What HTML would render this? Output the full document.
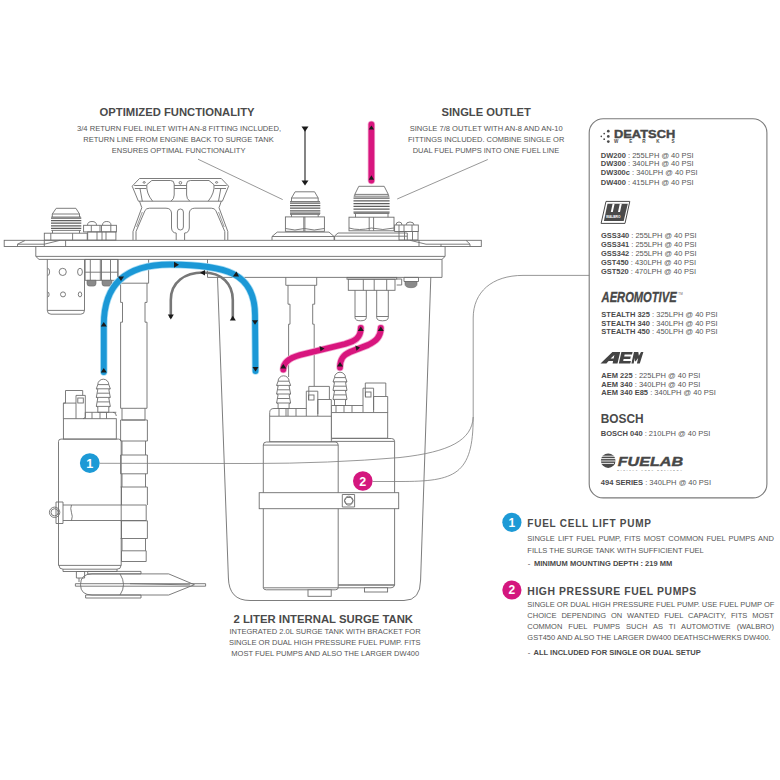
<!DOCTYPE html>
<html><head><meta charset="utf-8">
<style>
html,body{margin:0;padding:0;background:#fff;width:780px;height:780px;overflow:hidden}
svg{display:block}
text{font-family:"Liberation Sans",sans-serif}
.t{font-weight:bold;fill:#4a4a4a}
.b{fill:#555}
.k{fill:#4a4a4a}
.d{fill:none;stroke:#6e6e6e;stroke-width:0.9}
.dw{fill:#fff}
.dw [fill=none]{fill:none}
</style></head><body>
<svg width="780" height="780" viewBox="0 0 780 780">
<rect width="780" height="780" fill="#fff"/>

<!-- ===== TOP LEFT TEXT ===== -->
<text class="t" x="99.6" y="116.4" font-size="11" textLength="155" lengthAdjust="spacingAndGlyphs">OPTIMIZED FUNCTIONALITY</text>
<text class="b" x="77" y="131.3" font-size="8" textLength="204" lengthAdjust="spacingAndGlyphs">3/4 RETURN FUEL INLET WITH AN-8 FITTING INCLUDED,</text>
<text class="b" x="83.3" y="142" font-size="8" textLength="190.4" lengthAdjust="spacingAndGlyphs">RETURN LINE FROM ENGINE BACK TO SURGE TANK</text>
<text class="b" x="111.7" y="153.2" font-size="8" textLength="133.8" lengthAdjust="spacingAndGlyphs">ENSURES OPTIMAL FUNCTIONALITY</text>

<!-- ===== TOP MIDDLE TEXT ===== -->
<text class="t" x="441.5" y="116.3" font-size="11" textLength="89.4" lengthAdjust="spacingAndGlyphs">SINGLE OUTLET</text>
<text class="b" x="409.7" y="131.2" font-size="8" textLength="153" lengthAdjust="spacingAndGlyphs">SINGLE 7/8 OUTLET WITH AN-8 AND AN-10</text>
<text class="b" x="408" y="141.8" font-size="8" textLength="156.3" lengthAdjust="spacingAndGlyphs">FITTINGS INCLUDED. COMBINE SINGLE OR</text>
<text class="b" x="412.7" y="152.7" font-size="8" textLength="146.5" lengthAdjust="spacingAndGlyphs">DUAL FUEL PUMPS INTO ONE FUEL LINE</text>

<!-- ===== BOTTOM MIDDLE TEXT ===== -->
<text class="t" x="233.5" y="622.5" font-size="11.2" textLength="179.5" lengthAdjust="spacingAndGlyphs">2 LITER INTERNAL SURGE TANK</text>
<text class="b" x="229.4" y="633.8" font-size="8" textLength="191.2" lengthAdjust="spacingAndGlyphs">INTEGRATED 2.0L SURGE TANK WITH BRACKET FOR</text>
<text class="b" x="228.9" y="644.8" font-size="8" textLength="191.7" lengthAdjust="spacingAndGlyphs">SINGLE OR DUAL HIGH PRESSURE FUEL PUMP. FITS</text>
<text class="b" x="231.3" y="656.2" font-size="8" textLength="187.9" lengthAdjust="spacingAndGlyphs">MOST FUEL PUMPS AND ALSO THE LARGER DW400</text>

<!-- ===== BOTTOM RIGHT TEXT ===== -->
<circle cx="511.9" cy="522.3" r="9.6" fill="#1d9ad6"/>
<text x="511.9" y="526.6" font-size="12" font-weight="bold" fill="#fff" text-anchor="middle">1</text>
<text class="t" x="527.3" y="526.8" font-size="10" textLength="123.7" lengthAdjust="spacing">FUEL CELL LIFT PUMP</text>
<text class="b" transform="translate(527.3,541) scale(0.94,1)" font-size="8" style="word-spacing:1.1px">SINGLE LIFT FUEL PUMP, FITS MOST COMMON FUEL PUMPS AND</text>
<text class="b" x="527.3" y="552.5" font-size="8" textLength="176.5" lengthAdjust="spacingAndGlyphs">FILLS THE SURGE TANK WITH SUFFICIENT FUEL</text>
<text class="k" x="527.7" y="566.2" font-size="7.6">-</text>
<text class="k" x="534" y="566.2" font-size="7.6" font-weight="bold" textLength="138.2" lengthAdjust="spacingAndGlyphs">MINIMUM MOUNTING DEPTH : 219 MM</text>

<circle cx="511.9" cy="590" r="9.6" fill="#d4177e"/>
<text x="511.9" y="594.3" font-size="12" font-weight="bold" fill="#fff" text-anchor="middle">2</text>
<text class="t" x="527.3" y="595.2" font-size="10.4" textLength="169" lengthAdjust="spacing">HIGH PRESSURE FUEL PUMPS</text>
<text class="b" x="527.3" y="606.7" font-size="8" textLength="247" lengthAdjust="spacingAndGlyphs">SINGLE OR DUAL HIGH PRESSURE FUEL PUMP. USE FUEL PUMP OF</text>
<text class="b" transform="translate(527.3,618.2) scale(0.94,1)" font-size="8" style="word-spacing:2.99px">CHOICE DEPENDING ON WANTED FUEL CAPACITY, FITS MOST</text>
<text class="b" transform="translate(527.3,629.2) scale(0.94,1)" font-size="8" style="word-spacing:4.2px">COMMON FUEL PUMPS SUCH AS TI AUTOMOTIVE (WALBRO)</text>
<text class="b" x="527.3" y="640.4" font-size="8" textLength="243.4" lengthAdjust="spacingAndGlyphs">GST450 AND ALSO THE LARGER DW400 DEATHSCHWERKS DW400.</text>
<text class="k" x="527.7" y="654.8" font-size="7.6">-</text>
<text class="k" x="533.5" y="654.8" font-size="7.6" font-weight="bold" textLength="167.3" lengthAdjust="spacingAndGlyphs">ALL INCLUDED FOR SINGLE OR DUAL SETUP</text>

<!-- ===== RIGHT BOX ===== -->
<rect x="589.2" y="118.7" width="177.7" height="379.2" rx="14" fill="none" stroke="#7a7a7a" stroke-width="1.1"/>

<!-- ===== BOX CONTENT ===== -->
<g fill="#4a4a4a">
<!-- Deatsch dots -->
<circle cx="608.3" cy="131.2" r="1.35"/><circle cx="608.3" cy="136.4" r="1.35"/><circle cx="608.3" cy="141.6" r="1.35"/>
<circle cx="604.2" cy="133.6" r="0.9"/><circle cx="604.2" cy="139.2" r="0.9"/><circle cx="601.3" cy="136.4" r="0.8"/>
</g>
<text x="614" y="137.6" font-size="10" font-weight="bold" fill="#474747" textLength="61.2" lengthAdjust="spacingAndGlyphs" stroke="#474747" stroke-width="0.35">DEATSCH</text>
<g font-size="4.6" font-weight="bold" fill="#4a4a4a">
<text x="614" y="143.3">W</text><text x="629.2" y="143.3">E</text><text x="642.3" y="143.3">R</text><text x="656.2" y="143.3">K</text><text x="671.5" y="143.3">S</text>
</g>
<g font-size="8" fill="#555">
<text x="600.8" y="157.7" textLength="92.9" lengthAdjust="spacingAndGlyphs"><tspan font-weight="bold" fill="#4a4a4a">DW200</tspan> : 255LPH @ 40 PSI</text>
<text x="600.8" y="166.1" textLength="92.9" lengthAdjust="spacingAndGlyphs"><tspan font-weight="bold" fill="#4a4a4a">DW300</tspan> : 340LPH @ 40 PSI</text>
<text x="600.8" y="175.4" textLength="96.7" lengthAdjust="spacingAndGlyphs"><tspan font-weight="bold" fill="#4a4a4a">DW300c</tspan> : 340LPH @ 40 PSI</text>
<text x="600.8" y="184.5" textLength="92.9" lengthAdjust="spacingAndGlyphs"><tspan font-weight="bold" fill="#4a4a4a">DW400</tspan> : 415LPH @ 40 PSI</text>

<text x="601" y="238.1" textLength="95.5" lengthAdjust="spacingAndGlyphs"><tspan font-weight="bold" fill="#4a4a4a">GSS340</tspan> : 255LPH @ 40 PSI</text>
<text x="601" y="247.1" textLength="95.5" lengthAdjust="spacingAndGlyphs"><tspan font-weight="bold" fill="#4a4a4a">GSS341</tspan> : 255LPH @ 40 PSI</text>
<text x="601" y="256.0" textLength="95.5" lengthAdjust="spacingAndGlyphs"><tspan font-weight="bold" fill="#4a4a4a">GSS342</tspan> : 255LPH @ 40 PSI</text>
<text x="601" y="265.0" textLength="95" lengthAdjust="spacingAndGlyphs"><tspan font-weight="bold" fill="#4a4a4a">GST450</tspan> : 430LPH @ 40 PSI</text>
<text x="601" y="274.2" textLength="95" lengthAdjust="spacingAndGlyphs"><tspan font-weight="bold" fill="#4a4a4a">GST520</tspan> : 470LPH @ 40 PSI</text>

<text x="601.3" y="316.5" textLength="116.4" lengthAdjust="spacingAndGlyphs"><tspan font-weight="bold" fill="#4a4a4a">STEALTH 325</tspan> : 325LPH @ 40 PSI</text>
<text x="601.3" y="325.8" textLength="116.4" lengthAdjust="spacingAndGlyphs"><tspan font-weight="bold" fill="#4a4a4a">STEALTH 340</tspan> : 340LPH @ 40 PSI</text>
<text x="601.3" y="334.2" textLength="116.4" lengthAdjust="spacingAndGlyphs"><tspan font-weight="bold" fill="#4a4a4a">STEALTH 450</tspan> : 450LPH @ 40 PSI</text>

<text x="601.3" y="377.7" textLength="99.1" lengthAdjust="spacingAndGlyphs"><tspan font-weight="bold" fill="#4a4a4a">AEM 225</tspan> : 225LPH @ 40 PSI</text>
<text x="601.3" y="386.7" textLength="99.1" lengthAdjust="spacingAndGlyphs"><tspan font-weight="bold" fill="#4a4a4a">AEM 340</tspan> : 340LPH @ 40 PSI</text>
<text x="601.3" y="395.4" textLength="114.5" lengthAdjust="spacingAndGlyphs"><tspan font-weight="bold" fill="#4a4a4a">AEM 340 E85</tspan> : 340LPH @ 40 PSI</text>

<text x="600.8" y="436" textLength="109.6" lengthAdjust="spacingAndGlyphs"><tspan font-weight="bold" fill="#4a4a4a">BOSCH 040</tspan> : 210LPH @ 40 PSI</text>
<text x="600.8" y="484.8" textLength="110.2" lengthAdjust="spacingAndGlyphs"><tspan font-weight="bold" fill="#4a4a4a">494 SERIES</tspan> : 340LPH @ 40 PSI</text>
</g>

<!-- Walbro logo -->
<path d="M606,201.4 H629.8 L625,223.4 H601.1 Z" fill="#fff" stroke="#4a4a4a" stroke-width="1"/>
<path d="M607.5,203.7 H627.8 L623.7,221.1 H603.9 Z" fill="#4a4a4a"/>
<path d="M612.6,203.7 H614.6 L612.8,211.9 H610.8 Z M619.8,203.7 H621.8 L620,211.9 H618 Z" fill="#fff"/>
<text x="606" y="217.8" font-size="3.6" font-weight="bold" fill="#fff" textLength="14.5" lengthAdjust="spacingAndGlyphs">WALBRO</text>

<!-- Aeromotive -->
<text x="601.6" y="302.1" font-size="14" font-weight="bold" font-style="italic" fill="#474747" textLength="75" lengthAdjust="spacingAndGlyphs" stroke="#474747" stroke-width="0.3">AEROMOTIVE</text>
<text x="678.3" y="294.5" font-size="3" fill="#666">TM</text>

<!-- AEM -->
<g fill="#444">
<path d="M600.5,363.5 L612.4,351.9 H620.2 L617.5,363.5 H612.6 L613.1,361 H608.6 L606.4,363.5 Z M610.6,358.6 H613.6 L614.4,355 Z"/>
<path d="M618.8,363.5 L621.4,351.9 H632.6 L632,354.6 H624.6 L624.2,356.4 H630.8 L630.2,359 H623.6 L623.2,360.9 H630.9 L630.3,363.5 Z"/>
<path d="M631.4,363.5 L634,351.9 H638.3 L638.9,355.8 L641,351.9 H643.4 L639.8,363.5 H636.9 L638.2,358 L635.8,361.3 H634.9 L634.6,358 L633.7,363.5 Z"/>
</g>
<!-- BOSCH -->
<text x="600.8" y="422.5" font-size="12" font-weight="bold" fill="#4a4a4a" textLength="42.9" lengthAdjust="spacingAndGlyphs">BOSCH</text>

<!-- Fuelab -->
<circle cx="608.2" cy="460.7" r="7.3" fill="#4a4a4a"/>
<path d="M600,456.2 H614 M600,458.6 H616 M600,461 H616 M600,463.4 H614" stroke="#fff" stroke-width="0.9"/>
<text x="617.8" y="465.9" font-size="13" font-weight="bold" font-style="italic" fill="#474747" textLength="65.2" lengthAdjust="spacingAndGlyphs" stroke="#474747" stroke-width="0.4">FUELAB</text>
<text x="617.2" y="470.6" font-size="2.4" font-weight="bold" fill="#777" textLength="64.6" lengthAdjust="spacing">DIGITAL FUEL DELIVERY</text>

<!-- DIAGRAM -->
<!-- ===== PLATE & FLANGE ===== -->
<g class="d">
<rect x="4.2" y="240.3" width="477.1" height="6.2"/>
<path d="M17.5,246.5 V244.2 L25,240.5 M17.5,244.2 H44.3 L60,240.3 M44.3,240.3 V246.5 M65.6,240.3 V246.5"/>
<path d="M410,240.3 L426,244.2 H470 L466,240.3 M470,244.2 V246.5 M441,244.2 V246.5 M419,240.3 V246.5"/>
<path d="M35.8,246.5 V256.4 L39,259.4 H442 L445.1,256.4 V246.5 M35.8,256.4 H445.1"/>
<!-- lower body -->
<path d="M207.5,259.4 V277.4 H442 V259.4"/>
<!-- surge tank -->
<path d="M217.5,277.4 L228.4,578 Q229,600.5 250,600.5 H404 Q420.5,600.5 420.6,580 L430.8,277.4"/>
</g>

<!-- ===== STRAINER (under flange left) ===== -->
<g class="d">
<path d="M47.3,259.4 V310.4 Q47.3,314.2 51,314.2 H80.8 Q84.5,314.2 84.5,310.4 V259.4 M47.3,310.4 H84.5"/>
<path d="M47.6,268.3 A2,3.6 0 0 1 47.6,275.5"/>
<circle cx="62.7" cy="271.9" r="3.6"/>
<ellipse cx="80" cy="271.9" rx="2.4" ry="3.6"/>
<path d="M47.6,292 A1.5,2.5 0 0 1 47.6,297"/>
<circle cx="63" cy="294.4" r="2.5"/>
<ellipse cx="80" cy="294.4" rx="1.7" ry="2.5"/>
</g>
<!-- nuts under flange -->
<g class="d">
<rect x="85.1" y="259.4" width="32.7" height="20.9"/>
<path d="M85.1,272.2 H117.8 M90.3,259.4 V280.3 M100.3,259.4 V280.3 M101.5,259.4 V280.3 M110.5,259.4 V280.3"/>
</g>
<path d="M87,280.3 h9 v3 q0,2.8 -2.5,2.8 h-4 q-2.5,0 -2.5,-2.8z M102,280.3 h10 v3 q0,2.8 -2.5,2.8 h-5 q-2.5,0 -2.5,-2.8z" fill="#8a8a8a" stroke="#666" stroke-width="0.6"/>

<!-- ===== LIFT PUMP SUPPORT TUBE ===== -->
<g class="d">
<path d="M118,259.4 V283.2 H148.6 V259.4"/>
<path d="M120.6,283.2 V302.4 H122.5 V322.2 H120.6 V408.3 M147,283.2 V302.4 H145 V322.2 H147 V408.3 M120.6,408.3 H147"/>
<path d="M122,408.3 V420 H145 V408.3"/>
<path d="M120.6,420 H147.4 V441 H120.6Z"/>
<path d="M122,441 V455 M145.5,441 V455"/>
<path d="M120.6,455 H147.4 V473.8 H120.6Z"/>
<path d="M122,473.8 V487 M145.5,473.8 V487"/>
<path d="M120.6,487 H147.4 V505 M121.5,487 V505"/>
<path d="M120.6,520.8 H147.4 V538.5 M121.5,520.8 V538.5 M120.6,538.5 H147.4"/>
<path d="M122,538.5 V550.8 M145.5,538.5 V550.8"/>
<path d="M121.5,550.8 H146.2 V561.5 H121.5Z"/>
</g>
<!-- ===== TOP FITTINGS ===== -->
<g class="d">
<!-- left AN fitting -->
<path d="M52.3,217 V214 L56.2,208.3 H75.9 L79.5,214 V217 M52.3,214 H79.5 M52.5,230.4 V233.2 M79.5,230.4 V233.2"/>
<rect x="44.3" y="233.2" width="42.9" height="6.9"/>
<path d="M50.8,233.2 V240.1 M72.6,233.2 V240.1"/>
</g>
<g fill="none" stroke="#5e5e5e" stroke-width="1.25">
<path d="M51,218 H81.3 M51,220.6 H81.3 M51,223.2 H81.3 M51,225.8 H81.3 M51,228.4 H81.3"/>
</g>
<path d="M51.3,217 H81 M51.3,230.4 H81" class="d"/>
<!-- small nuts left -->
<g class="d">
<path d="M87.5,225.3 Q87.5,221.5 92,221.5 Q96.5,221.5 96.5,225.3 M102.5,225.3 Q102.5,221.5 106.8,221.5 Q111,221.5 111,225.3"/>
<rect x="83.6" y="225.3" width="32.8" height="6.6"/>
<path d="M91.3,225.3 V231.9 M100,225.3 V231.9 M101.5,225.3 V231.9 M110.8,225.3 V231.9"/>
<rect x="87.7" y="231.9" width="28.2" height="8.2"/>
<path d="M97,231.9 V240.1 M102,231.9 V240.1 M106,231.9 V240.1"/>
</g>

<!-- bracket -->
<g class="d">
<path d="M139.5,178.5 H221.3 L228.6,186.2 L222.4,201.2 H138.4 L132.2,186.2 Z"/>
<path d="M151.8,180.5 H170.5 Q174.2,180.5 174.2,184 V195 Q174.2,199 171,201.2 M151.8,180.5 L146.8,184.7 Q146,193 152.6,201.2"/>
<path d="M209,180.5 H190.3 Q186.6,180.5 186.6,184 V195 Q186.6,199 189.8,201.2 M209,180.5 L214,184.7 Q214.8,193 208.2,201.2"/>
<path d="M174.2,185.5 H186.6 M174.2,188.5 H186.6 M134.2,185.5 H146.6 M134.8,188.5 H146.3 M140,188.5 L142.3,201.2 M226.6,185.5 H214.2 M226,188.5 H214.5 M220.8,188.5 L218.5,201.2"/>
<circle cx="180.4" cy="182.8" r="1.3"/>
<ellipse cx="144.2" cy="182.4" rx="1.1" ry="0.8"/>
<ellipse cx="216.6" cy="182.4" rx="1.1" ry="0.8"/>
<path d="M136,240 V231.5 L145,210.5 Q146.3,208.2 149.5,208.2 H166 Q171,208.2 171.5,213 V228 Q172,233 176.2,233 V240"/>
<path d="M224.8,240 V231.5 L215.8,210.5 Q214.5,208.2 211.3,208.2 H194.8 Q189.8,208.2 189.3,213 V228 Q188.8,233 184.6,233 V240"/>
<path d="M139.5,201.2 L141.8,207.7 L133,231.5 V240 M221.3,201.2 L219,207.7 L227.8,231.5 V240"/>
<path d="M142.3,212 L136.6,227 M218.5,212 L224.2,227" stroke-width="0.7"/>
<rect x="177.4" y="209" width="6" height="21" rx="3"/>
</g>

<!-- AN-8 fitting (return) -->
<g class="d">
<path d="M291.5,201.5 V198 L295.1,191.8 H314.6 L318.2,198 V201.5 M291.5,198 H318.2 M291.5,214.4 V216.9 M318.2,214.4 V216.9"/>
<rect x="285.4" y="216.9" width="39" height="14.4"/>
<path d="M304.9,216.9 V231.3 M303.8,216.9 V231.3 M285.4,228.5 Q295,231.5 304.4,228.5 Q314,231.5 324.4,228.5"/>
<path d="M272,240 V236.5 L277.2,232.1 H329 L334.1,236.5 V240 M272,236.5 H334.1"/>
</g>
<g fill="none" stroke="#5e5e5e" stroke-width="1.25">
<path d="M290,203 H320.3 M290,205.6 H320.3 M290,208.2 H320.3 M290,210.8 H320.3 M290,213.2 H320.3"/>
</g>
<path d="M290,201.5 H320 M290,214.4 H320" class="d"/>

<!-- AN-10 fitting (outlet) -->
<g class="d">
<path d="M354.8,196.2 V194.4 L358.8,186.3 H384.2 L388.3,194.4 V196.2 M354.8,194.4 H388.3 M355.5,213.5 V217.2 M388,213.5 V217.2"/>
<rect x="349" y="217.2" width="45" height="13.6"/>
<path d="M369.2,217.2 V230.8 M373.6,217.2 V230.8 M349,228 Q359,231 371.4,228 Q383,231 394,228"/>
<path d="M334.6,240 V236 L338,233 H407.3 V240 M334.6,236.2 H407.3"/>
<!-- bolt to the right -->
<path d="M396,225 Q396,222 399,222 Q402,222 402,225 M406,225 Q406,222 410,222 Q414,222 414,225"/>
<rect x="394.6" y="225" width="23.7" height="6.5"/>
<path d="M399,225 V231.5 M404,225 V231.5 M412,225 V231.5"/>
<rect x="399" y="231.5" width="19" height="8.5"/>
<path d="M404.5,231.5 V240 M412.5,231.5 V240"/>
</g>
<g fill="none" stroke="#5e5e5e" stroke-width="1.25">
<path d="M353.5,198 H389.6 M353.5,200.8 H389.6 M353.5,203.6 H389.6 M353.5,206.4 H389.6 M353.5,209.2 H389.6 M353.5,212 H389.6"/>
</g>
<path d="M353.7,196.2 H389.4 M353.7,213.5 H389.4" class="d"/>
<!-- ===== OUTLET BLOCK UNDER PLATE ===== -->
<g class="d">
<rect x="347" y="277.4" width="49.7" height="1.8"/>
<rect x="348.3" y="279.2" width="46.7" height="11.1"/>
<path d="M363.3,279.2 V290.3 M374.2,279.2 V290.3 M386.7,279.2 V290.3"/>
<path d="M355,290.3 V317.5 Q355,320.8 360.6,320.8 Q366.3,320.8 366.3,317.5 V290.3 M355,316.5 H366.3"/>
<path d="M376.7,290.3 V317.5 Q376.7,320.8 382.5,320.8 Q388.3,320.8 388.3,317.5 V290.3 M376.7,316.5 H388.3"/>
<path d="M396.7,279 h5 v6 h-5 M404,277.4 h14.5 v4.1 h-14.5z"/>
</g>
<path d="M405,281.5 h12 v2.5 q0,3.7 -6,3.7 q-6,0 -6,-3.7z" fill="#8a8a8a" stroke="#666" stroke-width="0.6"/>

<!-- ===== CENTRAL TUBE ===== -->
<g class="d">
<path d="M285.8,277.4 V285.3 H316.7 V277.4"/>
<path d="M288,285.3 V304.2 H290 V324.2 H288.6 V377 M314.7,285.3 V304.2 H312.7 V324.2 H314.2 V386.4"/>
</g>

<!-- ===== LEFT LIFT PUMP ===== -->
<g class="d">
<!-- barb -->
<path d="M97.8,384.6 A5.5,5.4 0 0 1 108.8,384.6 L110.3,388.8 L108.8,389.4 L110.3,397.4 L108.8,398.0 L110.3,406.4 L108.8,407.0 V412.3 H97.8 L97.8,407.0 L96.3,406.4 L97.8,398.0 L96.3,397.4 L97.8,389.4 L96.3,388.8 Z" style="fill:#fff"/><path d="M96.3,388.8 H110.3 M96.3,397.4 H110.3 M96.3,406.4 H110.3 M97.8,384.6 H108.8 M97.2,393.2 H109.4 M97.2,401.9 H109.4" fill="none"/>
<!-- connector -->
<path d="M63.4,418.7 V403.1 H65.5 V390.5 H82.7 V395.4"/>
<path d="M76,418.7 V395.4 H85.3 V416.5 Q85.3,418.7 83,418.7 M76,403.1 H63.4"/>
<rect x="77.8" y="398" width="5.5" height="5"/>
<path d="M85.3,412.3 H116.3 M85.3,418.7 V412.3 M92,412.3 V418.7 M100,412.3 V418.7 M106.5,412.3 V418.7 M113,412.3 Q116.3,412.3 116.3,416"/>
<!-- head -->
<rect x="63.4" y="418.7" width="52.9" height="20.4"/>
<!-- body -->
<path d="M58.5,565.4 V441.5 Q58.5,439.1 61,439.1 H118.7 Q121.2,439.1 121.2,441.5 V565.4 Z"/>
<path d="M59,565.4 Q59,569.2 63,569.2 H117 Q121,569.2 121,565.4 M63,569.2 V571.5 H117 V569.2"/>
<!-- clamp -->
<path d="M63,505 H146.2 V520.5 H63 M71.5,505 Q70,508 71.5,512.8 Q73,516 71.5,520.5"/>
<path d="M56,502 H63 V523.5 H56Z"/>
<circle cx="54.6" cy="512.3" r="5.2"/>
<circle cx="54.6" cy="512.3" r="3.6"/>
<!-- filter sock -->
<path d="M87.7,571.4 H141 V573.9 H87.7Z M85.6,595 H141 V598 H85.6Z M76.4,571.5 H84.6 V578 H76.4Z M79,578 V582"/>
<path d="M80.5,584.7 Q80.5,573.9 92,573.9 H168.7 L194.4,584.7 L168.7,595 H92 Q80.5,595 80.5,584.7"/>
<path d="M75.4,583.7 H205.6 V586.2 H75.4Z"/>
<path d="M120,573.9 Q127,584.7 120,595 M130,583.7 L190,584.9"/>
</g>
<!-- ===== HP PUMP B (behind) ===== -->
<g class="d dw">
<path d="M334.5,377.6 A5.5,5.4 0 0 1 345.5,377.6 L347.0,381.8 L345.5,382.4 L347.0,390.4 L345.5,391.0 L347.0,399.4 L345.5,400.0 V405.5 H334.5 L334.5,400.0 L333.0,399.4 L334.5,391.0 L333.0,390.4 L334.5,382.4 L333.0,381.8 Z" style="fill:#fff"/><path d="M333.0,381.8 H347.0 M333.0,390.4 H347.0 M333.0,399.4 H347.0 M334.5,377.6 H345.5 M333.9,386.2 H346.1 M333.9,394.9 H346.1" fill="none"/>
<path d="M365.3,396.5 V383 H385.8 V396.5"/>
<path d="M373.6,412.6 V396.5 H387.7 V412.6"/>
<path d="M363,412.6 V388.2 H373.6 V410 M363,405.5 H331.3 V412.6" fill="none"/>
<rect x="365.5" y="392" width="5.5" height="5" fill="none"/>
<path d="M336,405.5 V412.6 M344,405.5 V412.6 M352,405.5 V412.6" fill="none"/>
<rect x="331.3" y="412.6" width="56.4" height="25.6"/>
<path d="M330,585 V441 Q330,438.5 333,438.5 H391.6 Q394.6,438.5 394.6,441.5 V585 Z"/>
<path d="M330,441.4 H394.6 M338,585 H394.6 Q394.1,587.8 391,587.8 H338" fill="none"/>
<rect x="364.5" y="587.8" width="23.1" height="4.2"/>
</g>

<!-- ===== HP PUMP A (front) ===== -->
<g class="d dw">
<path d="M278.1,381.2 A5.5,5.4 0 0 1 289.1,381.2 L290.6,385.4 L289.1,386.0 L290.6,394.0 L289.1,394.6 L290.6,403.0 L289.1,403.6 V408.5 H278.1 L278.1,403.6 L276.6,403.0 L278.1,394.6 L276.6,394.0 L278.1,386.0 L276.6,385.4 Z" style="fill:#fff"/><path d="M276.6,385.4 H290.6 M276.6,394.0 H290.6 M276.6,403.0 H290.6 M278.1,381.2 H289.1 M277.5,389.8 H289.7 M277.5,398.5 H289.7" fill="none"/>
<path d="M308.8,399.5 V386.4 H329.4 V399.5"/>
<path d="M317.8,416.2 V399.5 H331.3 V416.2"/>
<path d="M306.3,416.2 V391.2 H317.8 V414 M306.3,408.5 H274 Q269.7,408.5 269.7,412.5 V416.2" fill="none"/>
<rect x="308.5" y="395" width="5.5" height="5" fill="none"/>
<path d="M279,408.5 V416.2 M286,408.5 V416.2 M288,408.5 V416.2 M296,408.5 V416.2" fill="none"/>
<rect x="269.7" y="416.2" width="61.6" height="25.6"/>
<path d="M263.3,587.8 V445 Q263.3,442 266.3,442 H335.2 Q338.2,442 338.2,445 V587.8 Z"/>
<path d="M263.3,445.1 H338.2 M263.3,587.8 Q263.5,589.8 266.3,589.8 H335.2 Q338,589.8 338.2,587.8" fill="none"/>
<rect x="308" y="589.8" width="23.2" height="6.5"/>
</g>
<!-- clamp for HP pumps -->
<g class="d dw">
<rect x="259.2" y="492.7" width="139.5" height="16"/>
<path d="M342.3,494.5 H354.6 V507 H342.3Z"/>
<ellipse cx="348.8" cy="500.7" rx="4.2" ry="4.5"/>
<path d="M346.5,497.5 h4.5 l2,3.2 l-2,3.2 h-4.5 l-2,-3.2z" fill="none"/>
</g>
<!-- ===== LEADER LINES ===== -->
<g fill="none" stroke="#7d7d7d" stroke-width="0.8">
<path d="M198,159.2 L282.7,199.6"/>
<path d="M487.8,159.5 L397.2,199"/>
<path d="M589.2,275.4 H523 C492,275.4 473.2,292 473.2,318 V417"/>
<path d="M473.2,417 C472,440 450,452 400,457.5 Q330,463.5 250,463.5 L99.7,463.3"/>
<path d="M473.2,417 C473.2,475 455,481.5 400,481.5 H372.6"/>
</g>

<!-- ===== PIPES ===== -->
<!-- gray return -->
<path d="M170.8,318 V300 C170.8,282 185,272.5 203,272.5 C222,272.5 232.8,284 232.8,300 V318" fill="none" stroke="#777" stroke-width="2.6"/>
<!-- blue lift line -->
<path d="M103.8,372 V325 C103.8,285 125,264.5 170,264.5 C225,265 255,272 255,315 L255.5,371" fill="none" stroke="#a6dcf4" stroke-width="7.4" stroke-linecap="round"/>
<path d="M103.8,372 V325 C103.8,285 125,264.5 170,264.5 C225,265 255,272 255,315 L255.5,371" fill="none" stroke="#1b98d6" stroke-width="5.8" stroke-linecap="round"/>
<!-- pink pipes -->
<g fill="none" stroke-linecap="round">
<path d="M360.8,328 C360.8,338 355,341 345,344 L300,355 C289,358 283.3,362 283.3,369.5" stroke="#f3a8d0" stroke-width="7.4"/>
<path d="M380.8,328 C380.8,337 376,341 368,345 L350,352 C343,355 340,359 340,367.5" stroke="#f3a8d0" stroke-width="7.4"/>
<path d="M360.8,328 C360.8,338 355,341 345,344 L300,355 C289,358 283.3,362 283.3,369.5" stroke="#d8167e" stroke-width="5.8"/>
<path d="M380.8,328 C380.8,337 376,341 368,345 L350,352 C343,355 340,359 340,367.5" stroke="#d8167e" stroke-width="5.8"/>
<path d="M371.4,124.5 V180.5" stroke="#f3a8d0" stroke-width="7.4"/>
<path d="M371.4,124.5 V180.5" stroke="#d8167e" stroke-width="5.8"/>
</g>
<!-- vertical gray arrow -->
<path d="M305,129 V182" stroke="#666" stroke-width="1.6"/>

<!-- ===== ARROWS ===== -->
<g fill="#1a1a1a">
<!-- gray top arrow -->
<path d="M301.5,126.5 H308.5 L305,131.7Z"/>
<path d="M301.5,180.4 H308.5 L305,185.5Z"/>
<!-- pink vertical -->
<path d="M368.7,129.4 H374.1 L371.4,125.5Z"/>
<path d="M368.7,179.7 H374.1 L371.4,175.3Z"/>
<!-- blue -->
<path d="M100.8,326.5 H106.8 L103.8,322Z"/>
<path d="M100.8,372.4 H106.8 L103.8,368Z"/>
<path d="M118,276.5 H124 L121,281Z"/>
<path d="M174,261.7 V267.7 L179,264.7Z"/>
<path d="M232.8,276.5 H239 L236.5,271.5Z"/>
<path d="M252,320.2 H258 L255,324.8Z"/>
<path d="M252.5,367 H258.5 L255.5,371.5Z"/>
<!-- gray U -->
<path d="M167.8,314.5 H173.8 L170.8,319.5Z"/>
<path d="M205,270 V275.6 L200,272.8Z"/>
<path d="M229.8,320.5 H235.8 L232.8,315.8Z"/>
<!-- pink -->
<path d="M357.8,331 H363.8 L360.8,326.5Z"/>
<path d="M377.8,331 H383.8 L380.8,326.5Z"/>
<path d="M280.3,368.5 H286.3 L283.3,364Z"/>
<path d="M337,366.5 H343 L340,362Z"/>
<path d="M319.5,346 L324.5,348.6 L320.5,351.3Z"/>
<path d="M355.3,345.5 L360,347.6 L356.5,350.7Z"/>
</g>

<!-- ===== NUMBER CIRCLES IN DIAGRAM ===== -->
<circle cx="89.8" cy="463.1" r="9.9" fill="#1d9ad6"/>
<text x="89.8" y="467.6" font-size="12.5" font-weight="bold" fill="#fff" text-anchor="middle">1</text>
<circle cx="362.8" cy="481" r="9.8" fill="#d4177e"/>
<text x="362.8" y="485.5" font-size="12.5" font-weight="bold" fill="#fff" text-anchor="middle">2</text>


</svg>
</body></html>
